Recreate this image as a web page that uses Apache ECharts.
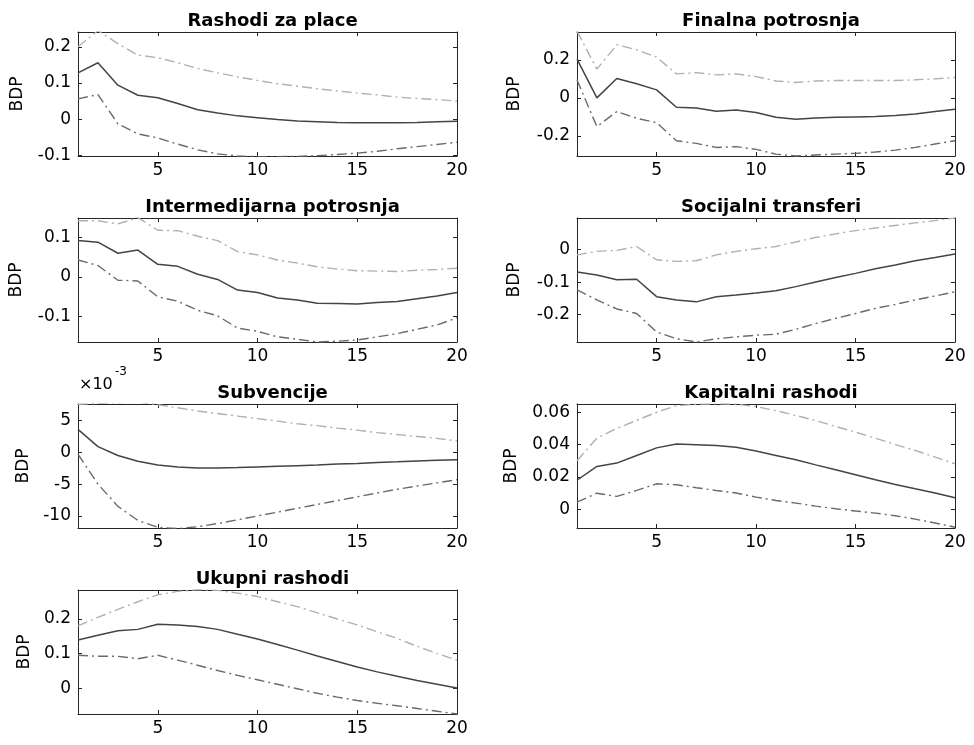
<!DOCTYPE html>
<html><head><meta charset="utf-8">
<script src="https://cdn.jsdelivr.net/npm/echarts@6/dist/echarts.min.js"></script>
<style>html,body{margin:0;padding:0;background:#fff}#c{width:974px;height:745px}</style>
</head><body><div id="c"></div>
<script>
const periods = [1,2,3,4,5,6,7,8,9,10,11,12,13,14,15,16,17,18,19,20];
const xTicks = [5,10,15,20];

// Rashodi za place
const placeMid = [0.128,0.156,0.094,0.066,0.059,0.043,0.026,0.017,0.009,0.004,-0.001,-0.005,-0.007,-0.009,-0.010,-0.010,-0.010,-0.009,-0.007,-0.006];
const placeUp  = [0.200,0.245,0.209,0.177,0.170,0.156,0.140,0.128,0.117,0.107,0.098,0.091,0.084,0.078,0.072,0.067,0.061,0.057,0.054,0.050];
const placeLo  = [0.056,0.068,-0.013,-0.041,-0.052,-0.069,-0.085,-0.096,-0.102,-0.104,-0.104,-0.103,-0.101,-0.098,-0.094,-0.089,-0.082,-0.076,-0.070,-0.064];
const placeTicks = [-0.1,0,0.1,0.2];

// Finalna potrosnja
const finMid = [0.204,0.000,0.102,0.074,0.042,-0.049,-0.053,-0.070,-0.063,-0.077,-0.102,-0.112,-0.105,-0.102,-0.100,-0.098,-0.093,-0.084,-0.072,-0.060];
const finUp  = [0.350,0.151,0.279,0.253,0.214,0.126,0.133,0.121,0.126,0.112,0.089,0.081,0.089,0.091,0.091,0.091,0.091,0.095,0.100,0.107];
const finLo  = [0.095,-0.151,-0.072,-0.107,-0.130,-0.225,-0.239,-0.260,-0.256,-0.270,-0.295,-0.305,-0.300,-0.295,-0.291,-0.284,-0.274,-0.260,-0.242,-0.225];
const finTicks = [-0.2,0,0.2];

// Intermedijarna potrosnja
const intMid = [0.092,0.088,0.060,0.068,0.032,0.027,0.007,-0.006,-0.033,-0.039,-0.053,-0.058,-0.066,-0.067,-0.068,-0.064,-0.062,-0.055,-0.048,-0.039];
const intUp  = [0.142,0.142,0.134,0.150,0.118,0.117,0.103,0.092,0.064,0.056,0.043,0.035,0.026,0.020,0.016,0.015,0.014,0.017,0.019,0.022];
const intLo  = [0.043,0.029,-0.008,-0.010,-0.050,-0.061,-0.084,-0.098,-0.129,-0.137,-0.151,-0.157,-0.164,-0.162,-0.159,-0.151,-0.143,-0.132,-0.121,-0.103];
const intTicks = [-0.1,0,0.1];

// Socijalni transferi
const socMid = [-0.069,-0.078,-0.093,-0.091,-0.145,-0.155,-0.161,-0.145,-0.140,-0.134,-0.127,-0.114,-0.100,-0.086,-0.073,-0.059,-0.047,-0.034,-0.024,-0.013];
const socUp  = [-0.016,-0.005,-0.002,0.010,-0.031,-0.036,-0.034,-0.016,-0.005,0.003,0.010,0.024,0.038,0.049,0.059,0.067,0.075,0.083,0.090,0.098];
const socLo  = [-0.124,-0.155,-0.183,-0.197,-0.254,-0.275,-0.285,-0.275,-0.269,-0.264,-0.261,-0.246,-0.228,-0.212,-0.197,-0.181,-0.169,-0.155,-0.143,-0.130];
const socTicks = [-0.2,-0.1,0];

// Subvencije (values x 10^-3)
const subMid = [3.6,0.9,-0.5,-1.4,-2.0,-2.3,-2.45,-2.45,-2.4,-2.3,-2.2,-2.1,-2.0,-1.85,-1.75,-1.6,-1.5,-1.35,-1.25,-1.15];
const subUp  = [7.55,7.7,7.8,7.9,7.5,7.0,6.5,6.1,5.7,5.3,4.9,4.5,4.2,3.8,3.5,3.1,2.8,2.5,2.2,1.8];
const subLo  = [-0.3,-5.0,-8.5,-10.7,-11.8,-12.0,-11.7,-11.2,-10.6,-10.0,-9.4,-8.8,-8.2,-7.6,-7.0,-6.4,-5.8,-5.3,-4.8,-4.3];
const subTicks = [-10,-5,0,5];

// Kapitalni rashodi
const kapMid = [0.018,0.0265,0.0286,0.0333,0.038,0.0404,0.040,0.0394,0.0384,0.036,0.0333,0.0306,0.0275,0.0245,0.0214,0.0183,0.0154,0.0127,0.0101,0.0072];
const kapUp  = [0.030,0.044,0.050,0.055,0.060,0.064,0.065,0.0652,0.065,0.0635,0.061,0.058,0.0549,0.0512,0.0477,0.044,0.040,0.0364,0.0323,0.0282];
const kapLo  = [0.0045,0.010,0.008,0.0117,0.0158,0.0152,0.0134,0.0117,0.0101,0.0076,0.0055,0.0039,0.002,0.0004,-0.001,-0.0023,-0.0039,-0.006,-0.0084,-0.011];
const kapTicks = [0,0.02,0.04,0.06];

// Ukupni rashodi
const ukMid = [0.139,0.153,0.166,0.170,0.185,0.183,0.178,0.170,0.156,0.142,0.126,0.110,0.093,0.077,0.061,0.047,0.034,0.022,0.011,0.000];
const ukUp  = [0.180,0.205,0.228,0.250,0.270,0.280,0.285,0.283,0.275,0.265,0.250,0.236,0.218,0.200,0.183,0.163,0.144,0.121,0.100,0.081];
const ukLo  = [0.095,0.092,0.092,0.085,0.095,0.081,0.066,0.051,0.037,0.024,0.011,-0.002,-0.015,-0.026,-0.036,-0.044,-0.051,-0.059,-0.067,-0.075];
const ukTicks = [0,0.1,0.2];

const panels = [
  {title:'Rashodi za place', mid:placeMid, up:placeUp, lo:placeLo, ticks:placeTicks, min:-0.102, max:0.241, col:0, row:0, gap:52},
  {title:'Finalna potrosnja', mid:finMid, up:finUp, lo:finLo, ticks:finTicks, min:-0.305, max:0.346, col:1, row:0, gap:54},
  {title:'Intermedijarna potrosnja', mid:intMid, up:intUp, lo:intLo, ticks:intTicks, min:-0.164, max:0.149, col:0, row:1, gap:53},
  {title:'Socijalni transferi', mid:socMid, up:socUp, lo:socLo, ticks:socTicks, min:-0.285, max:0.098, col:1, row:1, gap:54},
  {title:'Subvencije', mid:subMid, up:subUp, lo:subLo, ticks:subTicks, min:-11.9, max:7.6, col:0, row:2, gap:46},
  {title:'Kapitalni rashodi', mid:kapMid, up:kapUp, lo:kapLo, ticks:kapTicks, min:-0.0115, max:0.0651, col:1, row:2, gap:57},
  {title:'Ukupni rashodi', mid:ukMid, up:ukUp, lo:ukLo, ticks:ukTicks, min:-0.075, max:0.284, col:0, row:3, gap:45}
];

const colLeft = [78, 577], colWidth = [379, 378];
const rowTop = [32, 218, 404, 590], plotH = 124;
const FONT = '"DejaVu Sans", "Liberation Sans", Arial, sans-serif';
const axisColor = '#262626';

const grid = [], xAxis = [], yAxis = [], series = [], title = [];
panels.forEach((p, i) => {
  const left = colLeft[p.col], top = rowTop[p.row], w = colWidth[p.col];
  grid.push({left, top, width: w, height: plotH, containLabel: false});
  title.push({text: p.title, left: left + w / 2, top: top - 25, textAlign: 'center',
    textStyle: {fontFamily: FONT, fontSize: 18, fontWeight: 'bold', color: '#000'}});
  const tickCommon = {inside: true, length: 4, lineStyle: {color: axisColor, width: 1}};
  xAxis.push({gridIndex: i, type: 'value', min: 1, max: 20, position: 'bottom',
    axisLine: {show: true, onZero: false, lineStyle: {color: axisColor, width: 1}},
    axisTick: Object.assign({customValues: xTicks}, tickCommon),
    axisLabel: {customValues: xTicks, fontFamily: FONT, fontSize: 17, color: '#000', margin: 6},
    splitLine: {show: false}});
  xAxis.push({gridIndex: i, type: 'value', min: 1, max: 20, position: 'top',
    axisLine: {show: true, onZero: false, lineStyle: {color: axisColor, width: 1}},
    axisTick: Object.assign({customValues: xTicks}, tickCommon),
    axisLabel: {show: false}, splitLine: {show: false}});
  yAxis.push({gridIndex: i, type: 'value', min: p.min, max: p.max, position: 'left',
    name: 'BDP', nameLocation: 'middle', nameGap: p.gap, nameRotate: 90,
    nameTextStyle: {fontFamily: FONT, fontSize: 17, color: '#000'},
    axisLine: {show: true, onZero: false, lineStyle: {color: axisColor, width: 1}},
    axisTick: Object.assign({customValues: p.ticks}, tickCommon),
    axisLabel: {customValues: p.ticks, fontFamily: FONT, fontSize: 17, color: '#000', margin: 7},
    splitLine: {show: false}});
  yAxis.push({gridIndex: i, type: 'value', min: p.min, max: p.max, position: 'right',
    axisLine: {show: true, onZero: false, lineStyle: {color: axisColor, width: 1}},
    axisTick: Object.assign({customValues: p.ticks}, tickCommon),
    axisLabel: {show: false}, splitLine: {show: false}});
  const mk = (arr) => periods.map((t, k) => [t, arr[k]]);
  const base = {type: 'line', xAxisIndex: 2 * i, yAxisIndex: 2 * i, symbol: 'none', clip: true, animation: false, silent: true};
  series.push(Object.assign({name: p.title + ' gornja', data: mk(p.up), lineStyle: {color: '#b0b0b0', width: 1.4, type: [10, 4, 2, 4]}}, base));
  series.push(Object.assign({name: p.title + ' donja', data: mk(p.lo), lineStyle: {color: '#6a6a6a', width: 1.4, type: [10, 4, 2, 4]}}, base));
  series.push(Object.assign({name: p.title, data: mk(p.mid), lineStyle: {color: '#444444', width: 1.5, type: 'solid'}}, base));
});

const chart = echarts.init(document.getElementById('c'), null, {renderer: 'canvas'});
chart.setOption({
  animation: false,
  backgroundColor: '#fff',
  title, grid, xAxis, yAxis, series,
  graphic: [
    {type: 'text', left: 79, top: 377, style: {text: '×10', font: '16px ' + FONT, fill: '#000'}},
    {type: 'text', left: 115, top: 366, style: {text: '-3', font: '12px ' + FONT, fill: '#000'}}
  ]
});
</script>
</body></html>
